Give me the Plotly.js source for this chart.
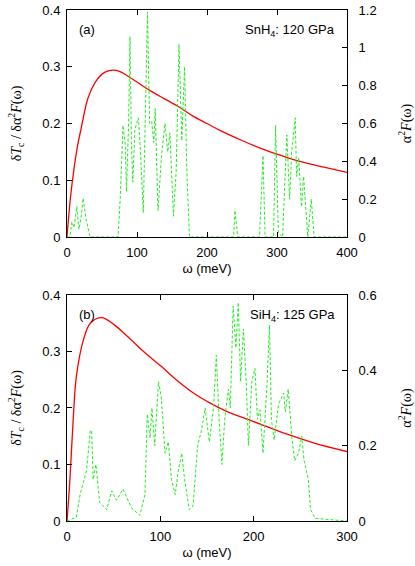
<!DOCTYPE html>
<html>
<head>
<meta charset="utf-8">
<script src="https://cdn.plot.ly/plotly-3.0.1.min.js"></script>
<style>
  html, body { margin: 0; padding: 0; background: #fff; }
  #graph { width: 415px; height: 566px; }
</style>
</head>
<body>
<div id="graph"></div>
<script>
// (a) SnH4: 120 GPa
var snW = [0, 5, 10, 15, 20, 30, 40, 50, 60, 66, 75, 85, 100, 120, 140, 160, 180, 200, 220, 250, 275, 300, 325, 350, 375, 400];
var snDTc = [0, 0.07, 0.12, 0.16, 0.19, 0.245, 0.272, 0.287, 0.293, 0.294, 0.292, 0.285, 0.273, 0.257, 0.243, 0.229, 0.213, 0.200, 0.187, 0.170, 0.157, 0.146, 0.136, 0.128, 0.121, 0.114];

var snFw = [0, 4, 7, 10, 14, 17, 20, 23, 27, 33, 73, 76, 80, 83, 85, 88, 90, 92, 94, 97, 102, 105, 109, 112, 115, 118, 121, 124, 126, 130, 135, 140, 144, 147, 152, 156, 160, 164, 168, 171, 175, 238, 240, 244, 275, 280, 283, 295, 298, 302, 308, 314, 318, 321, 326, 328, 331, 335, 338, 344, 349, 353, 400];
var snF = [0, 0, 0.08, 0.05, 0.16, 0.04, 0.1, 0.205, 0.1, 0, 0, 0.2, 0.59, 0.5, 0.24, 0.6, 1.06, 0.5, 0.29, 0.57, 0.63, 0.45, 0.13, 0.6, 1.19, 0.6, 0.61, 0.5, 0.68, 0.14, 0.43, 0.6, 0.45, 0.55, 0.11, 0.35, 1.02, 0.51, 0.9, 0.37, 0, 0, 0.14, 0, 0, 0.43, 0, 0, 0.59, 0.02, 0, 0.54, 0.2, 0.45, 0.63, 0.32, 0.42, 0.16, 0.32, 0, 0.2, 0, 0];

// (b) SiH4: 125 GPa
var siW = [0, 3, 7, 10, 17.5, 25, 37, 50, 64, 82, 100, 117, 135, 153, 171, 200, 235, 265, 300];
var siDTc = [0, 0.07, 0.19, 0.255, 0.32, 0.35, 0.36, 0.348, 0.328, 0.3, 0.275, 0.25, 0.227, 0.209, 0.194, 0.176, 0.154, 0.138, 0.123];

var siFw = [0, 10, 14, 17.5, 21, 25, 26.4, 28, 31, 35, 42.5, 48, 53, 60, 69, 78, 83.5, 86, 89, 91, 94, 98, 101, 105, 108.6, 112, 116, 119, 123, 126, 131, 135, 140, 144, 148, 152.5, 157, 160, 163, 166, 169, 173, 175, 178, 181, 183.5, 186, 189, 192, 194.4, 198, 201.4, 204, 206.8, 210, 214, 217, 219, 222, 226.6, 232, 234, 237, 241, 244, 248, 251.5, 254, 258.6, 261, 266, 275, 300];
var siF = [0, 0.01, 0.07, 0.1, 0.135, 0.24, 0.24, 0.11, 0.15, 0.05, 0.03, 0.08, 0.055, 0.085, 0.035, 0.015, 0.07, 0.284, 0.22, 0.3, 0.2, 0.37, 0.33, 0.18, 0.21, 0.11, 0.07, 0.13, 0.18, 0.11, 0.03, 0.04, 0.2, 0.24, 0.3, 0.21, 0.3, 0.44, 0.27, 0.15, 0.27, 0.35, 0.3, 0.57, 0.46, 0.58, 0.37, 0.51, 0.37, 0.2, 0.37, 0.405, 0.27, 0.295, 0.18, 0.35, 0.52, 0.27, 0.215, 0.31, 0.34, 0.29, 0.35, 0.22, 0.16, 0.18, 0.225, 0.16, 0.11, 0.03, 0.007, 0.005, 0];

var red = '#ff0000', green = '#22ee22';
var tickFont = {family: 'Liberation Sans, Arial, sans-serif', size: 13, color: '#000'};
var xTitleFont = {family: 'Liberation Sans, Arial, sans-serif', size: 13, color: '#000'};
var yTitleFont = {family: 'Liberation Serif, Times New Roman, serif', size: 14, color: '#000'};

var data = [
  {x: snW, y: snDTc, xaxis: 'x', yaxis: 'y', type: 'scatter', mode: 'lines',
   line: {color: red, width: 1.3, shape: 'spline'}},
  {x: snFw, y: snF, xaxis: 'x', yaxis: 'y2', type: 'scatter', mode: 'lines',
   line: {color: green, width: 1, dash: '3px,2px'}},
  {x: siW, y: siDTc, xaxis: 'x2', yaxis: 'y3', type: 'scatter', mode: 'lines',
   line: {color: red, width: 1.3, shape: 'spline'}},
  {x: siFw, y: siF, xaxis: 'x2', yaxis: 'y4', type: 'scatter', mode: 'lines',
   line: {color: green, width: 1, dash: '3px,2px'}}
];

function ax(extra) {
  var a = {showline: true, linecolor: '#000', linewidth: 1, ticks: 'inside', ticklen: 5,
           tickcolor: '#000', showgrid: false, zeroline: false, tickfont: tickFont,
           automargin: false, fixedrange: true};
  for (var k in extra) a[k] = extra[k];
  return a;
}

var yTitleL = 'δ<i>T</i><sub>c</sub> / δα<sup>2</sup><i>F</i>(ω)';
var yTitleR = 'α<sup>2</sup><i>F</i>(ω)';
var xTitle = 'ω (meV)';

var layout = {
  width: 415, height: 566,
  margin: {l: 67, r: 68, t: 10, b: 45},
  showlegend: false,
  paper_bgcolor: '#fff', plot_bgcolor: '#fff',
  xaxis: ax({domain: [0, 1], anchor: 'y', range: [0, 400], tickvals: [0, 100, 200, 300, 400], mirror: 'ticks',
    ticklabelstandoff: 3, title: {text: xTitle, font: xTitleFont, standoff: 5}}),
  yaxis: ax({domain: [0.5558, 1], anchor: 'x', range: [0, 0.4], tickvals: [0, 0.1, 0.2, 0.3, 0.4],
    ticklabelstandoff: 3, title: {text: yTitleL, font: yTitleFont, standoff: 17}}),
  yaxis2: ax({domain: [0.5558, 1], anchor: 'x', overlaying: 'y', side: 'right', range: [0, 1.2],
    tickvals: [0, 0.2, 0.4, 0.6, 0.8, 1, 1.2], ticklabelstandoff: 8,
    title: {text: yTitleR, font: yTitleFont, standoff: 26}}),
  xaxis2: ax({domain: [0, 1], anchor: 'y3', range: [0, 300], tickvals: [0, 100, 200, 300], mirror: 'ticks',
    ticklabelstandoff: 3, title: {text: xTitle, font: xTitleFont, standoff: 5}}),
  yaxis3: ax({domain: [0, 0.4423], anchor: 'x2', range: [0, 0.4], tickvals: [0, 0.1, 0.2, 0.3, 0.4],
    ticklabelstandoff: 3, title: {text: yTitleL, font: yTitleFont, standoff: 17}}),
  yaxis4: ax({domain: [0, 0.4423], anchor: 'x2', overlaying: 'y3', side: 'right', range: [0, 0.6],
    tickvals: [0, 0.2, 0.4, 0.6], ticklabelstandoff: 8,
    title: {text: yTitleR, font: yTitleFont, standoff: 26}}),
  annotations: [
    {text: '(a)', xref: 'x domain', yref: 'y domain', x: 0.035, y: 0.955, xanchor: 'left', yanchor: 'top',
     showarrow: false, font: tickFont},
    {text: 'SnH<sub>4</sub>: 120 GPa', xref: 'x domain', yref: 'y domain', x: 0.965, y: 0.955, xanchor: 'right', yanchor: 'top',
     showarrow: false, font: tickFont},
    {text: '(b)', xref: 'x2 domain', yref: 'y3 domain', x: 0.035, y: 0.955, xanchor: 'left', yanchor: 'top',
     showarrow: false, font: tickFont},
    {text: 'SiH<sub>4</sub>: 125 GPa', xref: 'x2 domain', yref: 'y3 domain', x: 0.965, y: 0.955, xanchor: 'right', yanchor: 'top',
     showarrow: false, font: tickFont}
  ]
};

Plotly.newPlot('graph', data, layout, {displayModeBar: false, staticPlot: true});
</script>
</body>
</html>
